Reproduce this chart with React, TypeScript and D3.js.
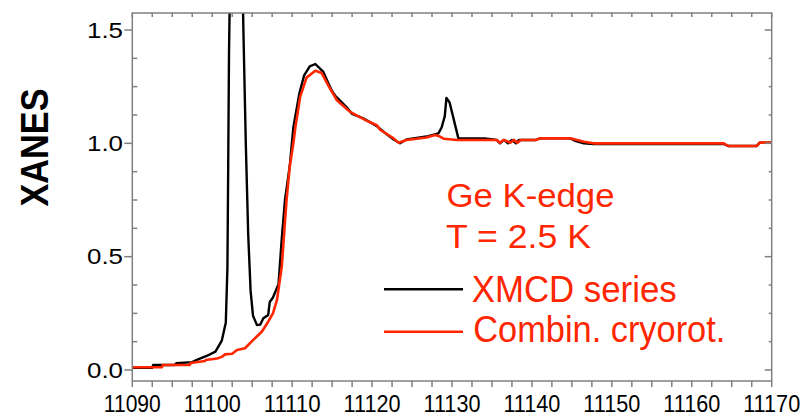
import React from 'react';
import * as d3 from 'd3';

// XMCD series (black)
const xmcdE = [11090, 11092.5, 11092.6, 11095.3, 11095.5, 11097.5, 11098, 11099.3, 11100.4, 11101.2, 11101.7, 11101.9, 11102.0, 11102.1, 11102.3, 11102.7, 11103.3, 11103.7, 11103.9, 11104.2, 11104.5, 11104.8, 11105.1, 11105.6, 11106.0, 11106.4, 11107.0, 11107.2, 11107.6, 11108.3, 11108.7, 11109.1, 11109.7, 11110.15, 11110.9, 11111.5, 11112.2, 11112.9, 11113.9, 11114.6, 11115.0, 11115.4, 11116.8, 11117.5, 11118.9, 11120.6, 11122.0, 11122.7, 11123.5, 11124.3, 11126.0, 11126.8, 11128.3, 11128.7, 11129.1, 11129.3, 11129.7, 11130.8, 11134.1, 11135.6, 11136.0, 11136.5, 11137.0, 11137.5, 11138.0, 11138.4, 11140.5, 11141, 11144.8, 11145.5, 11146.5, 11147.7, 11164, 11164.6, 11168.1, 11168.5, 11170];
const xmcdV = [0.01, 0.01, 0.022, 0.022, 0.03, 0.035, 0.044, 0.062, 0.081, 0.13, 0.21, 0.45, 0.9, 1.4, 1.9, 2.3, 2.3, 1.9, 1.5, 1.0, 0.6, 0.35, 0.24, 0.198, 0.2, 0.228, 0.243, 0.3, 0.32, 0.38, 0.58, 0.75, 0.9, 1.07, 1.22, 1.3, 1.34, 1.35, 1.315, 1.26, 1.23, 1.21, 1.16, 1.13, 1.11, 1.076, 1.035, 1.017, 1.0, 1.017, 1.026, 1.03, 1.044, 1.07, 1.12, 1.2, 1.18, 1.022, 1.022, 1.015, 1.0, 1.015, 1.0, 1.015, 1.0, 1.015, 1.015, 1.022, 1.022, 1.01, 1.0, 0.997, 0.997, 0.988, 0.988, 1.003, 1.003];

// Combin. cryorot. (red)
const cryoE = [11090, 11093.7, 11093.8, 11097.2, 11097.3, 11099.1, 11099.2, 11100.6, 11101.2, 11101.6, 11102.5, 11103.1, 11104.1, 11105.1, 11106.2, 11107, 11107.6, 11108.1, 11108.7, 11109.3, 11109.7, 11110.15, 11110.4, 11111, 11111.8, 11112.9, 11113.7, 11114.6, 11115.6, 11117.2, 11119.3, 11120.6, 11121.0, 11122.7, 11123.3, 11124.3, 11126.8, 11127.9, 11128.5, 11129, 11130.6, 11135.6, 11136, 11136.5, 11137.3, 11137.7, 11138.2, 11138.6, 11140.5, 11141, 11144.8, 11146.5, 11147.7, 11164, 11164.6, 11168.1, 11168.5, 11170];
const cryoV = [0.012, 0.012, 0.022, 0.022, 0.031, 0.04, 0.044, 0.051, 0.058, 0.069, 0.072, 0.088, 0.096, 0.132, 0.169, 0.213, 0.25, 0.309, 0.456, 0.75, 0.897, 1.0, 1.07, 1.205, 1.29, 1.32, 1.31, 1.25, 1.19, 1.14, 1.1, 1.08, 1.06, 1.022, 1.003, 1.015, 1.026, 1.037, 1.03, 1.02, 1.015, 1.015, 1.003, 1.015, 1.003, 1.015, 1.003, 1.015, 1.015, 1.022, 1.022, 1.007, 1.0, 1.0, 0.988, 0.988, 1.003, 1.003];

const xTickLabels = [11090, 11100, 11110, 11120, 11130, 11140, 11150, 11160, 11170];
const yTickLabels = [0.0, 0.5, 1.0, 1.5];

const RED = '#ff2600';
const AXIS = '#808080';
const FONT = '"Liberation Sans", Arial, sans-serif';

const App = () => {
  const left = 132.3, right = 771.7, top = 13, bottom = 381;

  const x = d3.scaleLinear().domain([11090, 11170]).range([left, right]);
  const y = d3.scaleLinear().domain([-0.0485, 1.575]).range([bottom, top]);

  const line = d3.line<[number, number]>()
    .x(d => x(d[0]))
    .y(d => y(d[1]));

  const xmcd = xmcdE.map((e, i) => [e, xmcdV[i]] as [number, number]);
  const cryo = cryoE.map((e, i) => [e, cryoV[i]] as [number, number]);

  const xMinor = d3.range(11090, 11170.01, 2.5);
  const yMinor = d3.range(0, 1.576, 0.125).filter(v => Math.abs(v * 2 - Math.round(v * 2)) > 1e-6);

  return (
    <svg width={807} height={416} style={{ position: 'absolute', left: 0, top: 0, background: '#fff' }}>
      <defs>
        <clipPath id="plotClip">
          <rect x={left} y={top} width={right - left} height={bottom - top} />
        </clipPath>
      </defs>

      {/* curves */}
      <g clipPath="url(#plotClip)" fill="none" strokeLinejoin="round">
        <path d={line(xmcd) || ''} stroke="#000" strokeWidth={2.4} />
        <path d={line(cryo) || ''} stroke={RED} strokeWidth={2.6} />
      </g>

      {/* frame */}
      <rect x={left} y={top} width={right - left} height={bottom - top} fill="none" stroke={AXIS} strokeWidth={1.5} />

      {/* bottom ticks (outward) and top ticks (inward) */}
      {xMinor.map(v => (
        <g key={'xt' + v}>
          <line x1={x(v)} x2={x(v)} y1={bottom} y2={bottom + 6} stroke={AXIS} strokeWidth={1.5} />
          <line x1={x(v)} x2={x(v)} y1={top} y2={top + 4} stroke={AXIS} strokeWidth={1.5} />
        </g>
      ))}

      {/* y major ticks */}
      {yTickLabels.map(v => (
        <g key={'ym' + v}>
          <line x1={left - 8} x2={left} y1={y(v)} y2={y(v)} stroke={AXIS} strokeWidth={1.5} />
          <line x1={right - 7} x2={right} y1={y(v)} y2={y(v)} stroke={AXIS} strokeWidth={1.5} />
        </g>
      ))}
      {/* y minor ticks */}
      {yMinor.map(v => (
        <g key={'yn' + v}>
          <line x1={left} x2={left + 5} y1={y(v)} y2={y(v)} stroke={AXIS} strokeWidth={1.5} />
          <line x1={right - 3} x2={right} y1={y(v)} y2={y(v)} stroke={AXIS} strokeWidth={1.5} />
        </g>
      ))}

      {/* tick labels */}
      {xTickLabels.map(v => (
        <text key={'xl' + v} x={x(v)} y={411.5} textAnchor="middle" fontFamily={FONT} fontSize={23.5}
          textLength={57} lengthAdjust="spacingAndGlyphs" fill="#000">{v}</text>
      ))}
      {yTickLabels.map(v => (
        <text key={'yl' + v} x={123} y={y(v) + 7.8} textAnchor="end" fontFamily={FONT} fontSize={21.5}
          textLength={36} lengthAdjust="spacingAndGlyphs" fill="#000">{v.toFixed(1)}</text>
      ))}

      {/* y axis title */}
      <text transform="translate(48,147.5) rotate(-90)" textAnchor="middle" fontFamily={FONT} fontWeight="bold"
        fontSize={39} textLength={118} lengthAdjust="spacingAndGlyphs" fill="#000">XANES</text>

      {/* annotation */}
      <text x={446.5} y={206.7} fontFamily={FONT} fontSize={34} fill={RED} textLength={168} lengthAdjust="spacingAndGlyphs">Ge K-edge</text>
      <text x={446} y={248.3} fontFamily={FONT} fontSize={34} fill={RED} textLength={145} lengthAdjust="spacingAndGlyphs">T = 2.5 K</text>

      {/* legend */}
      <line x1={384} x2={463} y1={289.3} y2={289.3} stroke="#000" strokeWidth={2.4} />
      <text x={471.7} y={302} fontFamily={FONT} fontSize={37} fill={RED} textLength={205} lengthAdjust="spacingAndGlyphs">XMCD series</text>
      <line x1={384} x2={463} y1={331.7} y2={331.7} stroke={RED} strokeWidth={2.6} />
      <text x={473.3} y={341.7} fontFamily={FONT} fontSize={37} fill={RED} textLength={252} lengthAdjust="spacingAndGlyphs">Combin. cryorot.</text>
    </svg>
  );
};

export default App;
